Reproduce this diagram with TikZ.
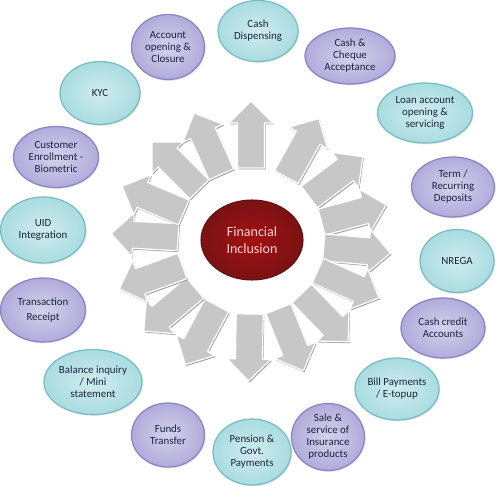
\documentclass[tikz,border=0pt]{standalone}
\usepackage{fontspec}
\setmainfont{Carlito}
\usetikzlibrary{shapes.geometric,shadows}
\definecolor{aqua}{HTML}{A9DCE0}
\definecolor{aquaedge}{HTML}{76BCC3}
\definecolor{lilac}{HTML}{B0ACDB}
\definecolor{lilacedge}{HTML}{8883C3}
\definecolor{ink}{HTML}{1A2440}
\definecolor{hubred}{HTML}{8E1518}
\definecolor{hubtext}{HTML}{F4D2D2}
\tikzset{svc/.style={ellipse, inner sep=0pt, align=center, font=\fontsize{6.2}{6.8}\selectfont, text=ink, line width=0.7pt,
    drop shadow={opacity=0.2, shadow xshift=0.6pt, shadow yshift=-0.8pt}},
  cy/.style={svc, draw=aquaedge, inner color=aqua!55!white, outer color=aqua},
  pu/.style={svc, draw=lilacedge, inner color=lilac!55!white, outer color=lilac},
  hub/.style={ellipse, inner sep=0pt, align=center, minimum width=2.04cm, minimum height=1.6cm,
    inner color=hubred!80!red, outer color=hubred!85!black, draw=hubred!70!black, line width=0.6pt,
    text=hubtext, font=\fontsize{8}{9.6}\selectfont},
  blk/.style={fill=black!22, draw=white, line width=0.7pt, line join=round},
  blkshade/.style={fill=black!38, line join=round}}

\begin{document}
\begin{tikzpicture}
  \fill[white] (0,0) rectangle (9.94,9.70);
  \useasboundingbox (0,0) rectangle (9.94,9.70);
  \coordinate (ring) at (5.02,4.88);
  % block arrows round the hub
  \foreach \a in {90,61,37,15,-5,-24,-46,-68,-91,-118,-140,-160,177,157,135,114} {
    \fill[blkshade, shift={(ring)}, xshift=0.6pt, yshift=-0.8pt, rotate=\a]
      (1.46,-0.27) -- (2.36,-0.27) -- (2.36,-0.44) -- (2.80,0) -- (2.36,0.44) -- (2.36,0.27) -- (1.46,0.27) -- cycle;
    \draw[blk, shift={(ring)}, rotate=\a]
      (1.46,-0.27) -- (2.36,-0.27) -- (2.36,-0.44) -- (2.80,0) -- (2.36,0.44) -- (2.36,0.27) -- (1.46,0.27) -- cycle;
  }
  \node[hub] (hub) at (5.04,4.90) {Financial\\Inclusion};
  % services, clockwise from the top
  \node[cy, minimum width=1.60cm, minimum height=1.22cm] (cashdisp) at (5.16,9.08) {Cash\\Dispensing};
  \node[pu, minimum width=1.80cm, minimum height=1.12cm] (cheque)   at (7.00,8.58) {Cash \&\\Cheque\\Acceptance};
  \node[cy, minimum width=1.90cm, minimum height=1.20cm] (loan)     at (8.50,7.44) {Loan account\\opening \&\\servicing};
  \node[pu, minimum width=1.66cm, minimum height=1.20cm] (term)     at (9.06,5.96) {Term /\\Recurring\\Deposits};
  \node[cy, minimum width=1.48cm, minimum height=1.26cm] (nrega)    at (9.14,4.48) {NREGA};
  \node[pu, minimum width=1.68cm, minimum height=1.20cm] (cashcred) at (8.86,3.14) {Cash credit\\Accounts};
  \node[cy, minimum width=1.68cm, minimum height=1.24cm] (billpay)  at (7.94,1.92) {Bill Payments\\/ E-topup};
  \node[pu, minimum width=1.46cm, minimum height=1.34cm] (insure)   at (6.56,0.96) {Sale \&\\service of\\Insurance\\products};
  \node[cy, minimum width=1.56cm, minimum height=1.32cm] (pension)  at (5.04,0.66) {Pension \&\\Govt.\\Payments};
  \node[pu, minimum width=1.46cm, minimum height=1.28cm] (funds)    at (3.36,1.00) {Funds\\Transfer};
  \node[cy, minimum width=1.96cm, minimum height=1.30cm] (balance)  at (1.86,2.06) {Balance inquiry\\/ Mini\\statement};
  \node[pu, minimum width=1.70cm, minimum height=1.28cm] (receipt)  at (0.86,3.50) {Transaction\\[2pt]Receipt};
  \node[cy, minimum width=1.70cm, minimum height=1.32cm] (uid)      at (0.86,5.10) {UID\\Integration};
  \node[pu, minimum width=1.70cm, minimum height=1.22cm] (enrol)    at (1.12,6.56) {Customer\\Enrollment -\\Biometric};
  \node[cy, minimum width=1.60cm, minimum height=1.26cm] (kyc)      at (2.00,7.84) {KYC};
  \node[pu, minimum width=1.46cm, minimum height=1.30cm] (acct)     at (3.36,8.76) {Account\\opening \&\\Closure};
\end{tikzpicture}
\end{document}
